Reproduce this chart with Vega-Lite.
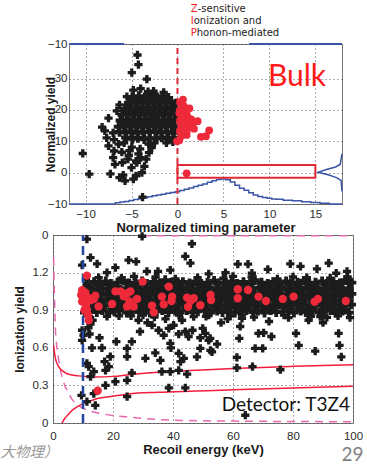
{
"$schema": "https://vega.github.io/schema/vega-lite/v6.json",
"padding": {"left": 0, "top": 3, "right": 0, "bottom": 0},
"config": {
  "font": "Liberation Sans",
  "view": {"stroke": "#7a7a7a", "strokeWidth": 1},
  "axis": {"domain": false, "ticks": false, "grid": true, "gridDash": [1, 3], "gridColor": "#333", "gridWidth": 1, "gridOpacity": 0.8,
    "labelFont": "Liberation Sans", "labelFontSize": 11.5, "labelColor": "#2a2a2a", "labelFlush": false, "labelOverlap": false, "labelBound": false,
    "titleFont": "Liberation Sans", "titleFontSize": 13, "titleFontWeight": "bold", "titleColor": "#1a1a1a"}
},
"datasets": {
  "histX": [{"x":-11.8,"y":-10},{"x":-7,"y":-10},{"x":-6.5,"y":-9.6},{"x":-6,"y":-9.4},{"x":-5.5,"y":-9.2},{"x":-5,"y":-8.9},{"x":-4.5,"y":-8.6},{"x":-4,"y":-8.3},{"x":-3.5,"y":-8.0},{"x":-3,"y":-7.7},{"x":-2.5,"y":-7.4},{"x":-2,"y":-7.1},{"x":-1.5,"y":-6.9},{"x":-1,"y":-6.6},{"x":-0.5,"y":-6.3},{"x":0,"y":-6.1},{"x":0.5,"y":-5.7},{"x":1,"y":-5.3},{"x":1.5,"y":-4.9},{"x":2,"y":-4.4},{"x":2.5,"y":-4.0},{"x":3,"y":-3.6},{"x":3.5,"y":-3.1},{"x":4,"y":-2.6},{"x":4.5,"y":-2.2},{"x":5,"y":-2.0},{"x":5.5,"y":-2.3},{"x":6,"y":-3.0},{"x":6.5,"y":-4.0},{"x":7,"y":-5.0},{"x":7.5,"y":-5.6},{"x":8,"y":-6.4},{"x":8.5,"y":-7.1},{"x":9,"y":-7.6},{"x":9.5,"y":-7.9},{"x":10,"y":-8.2},{"x":10.5,"y":-8.4},{"x":11,"y":-8.5},{"x":12,"y":-8.8},{"x":13,"y":-9.0},{"x":14,"y":-9.3},{"x":15,"y":-9.5},{"x":16,"y":-9.8},{"x":17,"y":-10},{"x":17.9,"y":-10}],
  "histY": [{"i":1,"x":17.9,"y":-6},{"i":2,"x":17.8,"y":-2.5},{"i":3,"x":17.3,"y":-1.6},{"i":4,"x":16.4,"y":-0.7},{"i":5,"x":15.3,"y":0.1},{"i":6,"x":16.2,"y":1.0},{"i":7,"x":17.2,"y":1.8},{"i":8,"x":17.7,"y":2.6},{"i":9,"x":17.9,"y":6}],
  "topEdge": [{"x":-11.8,"x2":-5.8,"y":41},{"x":7.8,"x2":17.9,"y":41}],
  "zeroLine": [{"x":0,"y":-10,"y2":41}],
  "box": [{"x":0,"x2":15,"y":-1.6,"y2":2.4}],
  "bulk": [{"t":"Bulk","x":13.0,"y":30.4}],
  "zipR": [{"t":"Z","x":1.45,"y":52},{"t":"I","x":1.45,"y":48.2},{"t":"P","x":1.45,"y":44.5}],
  "zipK": [{"t":"-sensitive","x":2.2,"y":52},{"t":"onization and","x":1.77,"y":48.2},{"t":"honon-mediated","x":2.1,"y":44.5}],
  "topCore": [
    {"x":-5.6,"y":11.2},{"x":-4.9,"y":10.8},{"x":-4.3,"y":11.1},{"x":-3.6,"y":10.7},{"x":-3.0,"y":11.0},{"x":-2.3,"y":10.9},{"x":-1.7,"y":11.2},{"x":-1.0,"y":10.8},{"x":-0.4,"y":11.1},
    {"x":-6.3,"y":13.0},{"x":-5.65,"y":12.8},{"x":-5.0,"y":13.1},{"x":-4.35,"y":12.7},{"x":-3.7,"y":13.0},{"x":-3.05,"y":12.9},{"x":-2.4,"y":13.2},{"x":-1.75,"y":12.8},{"x":-1.1,"y":13.0},{"x":-0.45,"y":12.7},
    {"x":-6.4,"y":14.6},{"x":-5.8,"y":15.0},{"x":-5.15,"y":14.7},{"x":-4.5,"y":14.9},{"x":-3.85,"y":14.6},{"x":-3.2,"y":15.0},{"x":-2.55,"y":14.8},{"x":-1.9,"y":14.6},{"x":-1.25,"y":15.0},{"x":-0.6,"y":14.7},
    {"x":-6.2,"y":16.6},{"x":-5.5,"y":16.9},{"x":-4.85,"y":16.5},{"x":-4.2,"y":16.8},{"x":-3.55,"y":16.6},{"x":-2.9,"y":17.0},{"x":-2.25,"y":16.7},{"x":-1.6,"y":16.5},{"x":-0.95,"y":16.9},{"x":-0.3,"y":16.6},
    {"x":-6.0,"y":18.4},{"x":-5.3,"y":18.7},{"x":-4.65,"y":18.5},{"x":-4.0,"y":18.8},{"x":-3.35,"y":18.5},{"x":-2.7,"y":18.7},{"x":-2.05,"y":18.4},{"x":-1.4,"y":18.8},{"x":-0.75,"y":18.5},{"x":-0.15,"y":18.7},
    {"x":-5.7,"y":20.3},{"x":-5.05,"y":20.6},{"x":-4.4,"y":20.4},{"x":-3.75,"y":20.7},{"x":-3.1,"y":20.4},{"x":-2.45,"y":20.6},{"x":-1.8,"y":20.3},{"x":-1.15,"y":20.7},{"x":-0.5,"y":20.4},
    {"x":-5.3,"y":22.2},{"x":-4.6,"y":22.5},{"x":-3.95,"y":22.3},{"x":-3.3,"y":22.6},{"x":-2.65,"y":22.2},{"x":-2.0,"y":22.5},{"x":-1.35,"y":22.3},{"x":-0.7,"y":22.5},{"x":-0.2,"y":22.0},
    {"x":-4.9,"y":24.1},{"x":-4.2,"y":24.4},{"x":-3.55,"y":24.0},{"x":-2.9,"y":24.3},{"x":-2.25,"y":24.1},{"x":-1.6,"y":24.4},{"x":-1.0,"y":23.8},{"x":-0.1,"y":13.8},{"x":-0.1,"y":19.6}
  ],
  "topBlack": [
    {"x":-5.5,"y":24.2},{"x":-4.8,"y":26.3},{"x":-4.0,"y":26.8},{"x":-2.6,"y":26.0},{"x":-1.5,"y":25.6},{"x":-3.2,"y":25.8},{"x":-6.3,"y":21.6},{"x":-6.6,"y":19.7},{"x":-7.5,"y":17.4},{"x":-8.2,"y":14.5},{"x":-7.0,"y":12.7},{"x":-7.7,"y":11.1},{"x":-6.9,"y":10.5},{"x":-7.9,"y":13.3},
    {"x":-4.35,"y":37.5},{"x":-4.25,"y":34.4},{"x":-4.97,"y":31.9},{"x":-3.33,"y":29.8},{"x":-10.3,"y":6.1},{"x":-9.6,"y":-0.5},{"x":-3.8,"y":-7.8},{"x":-7.3,"y":-0.4},{"x":-6.3,"y":-1.6},{"x":-5.7,"y":-2.65},{"x":-4.8,"y":-2.1},{"x":-4.5,"y":-1.0},{"x":-6.8,"y":2.6},{"x":-6.0,"y":3.2},{"x":-5.0,"y":1.6},{"x":-5.4,"y":4.3},{"x":-4.5,"y":3.7},{"x":-4.0,"y":4.8},{"x":-3.4,"y":4.3},{"x":-3.1,"y":6.4},{"x":-6.9,"y":6.9},{"x":-7.5,"y":8.5},{"x":-6.4,"y":9.1},{"x":-5.3,"y":5.5},{"x":-4.25,"y":6.0},{"x":-4.97,"y":8.1},{"x":-4.06,"y":7.6},{"x":-3.14,"y":9.1},{"x":-4.42,"y":3.2},{"x":-3.87,"y":0.0},{"x":-6.05,"y":6.5},{"x":-5.8,"y":9.5},{"x":-5.2,"y":7.0},{"x":-3.6,"y":2.0},{"x":-2.8,"y":8.0},{"x":-2.5,"y":9.5},{"x":-1.2,"y":9.5},{"x":-0.5,"y":9.8},{"x":-5.9,"y":-0.8},{"x":-7.0,"y":4.8}
  ],
  "topRed": [
    {"x":0.3,"y":22.3},{"x":0.7,"y":21.2},{"x":0.3,"y":20.0},{"x":1.0,"y":19.5},{"x":0.4,"y":18.2},{"x":1.1,"y":17.8},{"x":0.3,"y":16.5},{"x":1.0,"y":16.2},{"x":1.6,"y":15.5},{"x":0.4,"y":14.8},{"x":1.2,"y":14.5},{"x":1.8,"y":14.0},{"x":0.3,"y":13.2},{"x":1.0,"y":13.0},{"x":0.4,"y":11.7},{"x":1.0,"y":12.0},{"x":0.2,"y":10.3},{"x":-0.05,"y":10.0},{"x":0.6,"y":23.3},{"x":1.3,"y":20.5},{"x":2.2,"y":16.4},{"x":3.45,"y":13.5},{"x":2.55,"y":11.4},{"x":3.1,"y":11.6},{"x":1.0,"y":-0.2},{"x":1.5,"y":17.0},{"x":0.2,"y":19.0},{"x":0.8,"y":15.2}
  ],
  "botBand": [
    {"x":10.6,"y":0.88},{"x":12.3,"y":0.895},{"x":14.6,"y":0.885},{"x":16.4,"y":0.9},{"x":18.7,"y":0.88},{"x":20.5,"y":0.89},{"x":22.2,"y":0.9},{"x":24.6,"y":0.88},{"x":26.4,"y":0.895},{"x":28.7,"y":0.885},{"x":30.5,"y":0.9},{"x":32.3,"y":0.88},{"x":34.6,"y":0.89},{"x":36.4,"y":0.9},{"x":38.5,"y":0.885},{"x":40.7,"y":0.895},{"x":42.3,"y":0.88},{"x":44.6,"y":0.9},{"x":46.5,"y":0.885},{"x":48.3,"y":0.89},{"x":50.6,"y":0.9},{"x":52.4,"y":0.88},{"x":54.7,"y":0.895},{"x":56.5,"y":0.885},{"x":58.3,"y":0.9},{"x":60.6,"y":0.88},{"x":62.4,"y":0.89},{"x":64.5,"y":0.9},{"x":66.7,"y":0.885},{"x":68.3,"y":0.895},{"x":70.5,"y":0.88},{"x":72.6,"y":0.9},{"x":74.4,"y":0.885},{"x":76.7,"y":0.89},{"x":78.5,"y":0.9},{"x":80.3,"y":0.88},{"x":82.6,"y":0.895},{"x":84.4,"y":0.885},{"x":86.5,"y":0.9},{"x":88.7,"y":0.88},{"x":90.3,"y":0.89},{"x":92.6,"y":0.9},{"x":94.4,"y":0.885},{"x":96.5,"y":0.895},{"x":98.6,"y":0.88},
    {"x":11.4,"y":0.94},{"x":13.6,"y":0.93},{"x":15.5,"y":0.945},{"x":17.3,"y":0.935},{"x":19.6,"y":0.94},{"x":21.4,"y":0.93},{"x":23.5,"y":0.94},{"x":25.7,"y":0.935},{"x":27.4,"y":0.945},{"x":29.6,"y":0.93},{"x":31.5,"y":0.94},{"x":33.3,"y":0.935},{"x":35.6,"y":0.945},{"x":37.4,"y":0.93},{"x":39.5,"y":0.94},{"x":41.7,"y":0.935},{"x":43.4,"y":0.945},{"x":45.5,"y":0.93},{"x":47.6,"y":0.94},{"x":49.3,"y":0.935},{"x":51.5,"y":0.945},{"x":53.7,"y":0.93},{"x":55.4,"y":0.94},{"x":57.6,"y":0.935},{"x":59.5,"y":0.945},{"x":61.3,"y":0.93},{"x":63.6,"y":0.94},{"x":65.4,"y":0.935},{"x":67.5,"y":0.945},{"x":69.7,"y":0.93},{"x":71.4,"y":0.94},{"x":73.6,"y":0.935},{"x":75.5,"y":0.945},{"x":77.3,"y":0.93},{"x":79.6,"y":0.94},{"x":81.4,"y":0.935},{"x":83.5,"y":0.945},{"x":85.7,"y":0.93},{"x":87.4,"y":0.94},{"x":89.6,"y":0.935},{"x":91.5,"y":0.945},{"x":93.3,"y":0.93},{"x":95.6,"y":0.94},{"x":97.4,"y":0.935},{"x":99.4,"y":0.945},
    {"x":10.4,"y":0.98},{"x":12.6,"y":0.99},{"x":14.5,"y":0.975},{"x":16.3,"y":0.985},{"x":18.6,"y":0.98},{"x":20.4,"y":0.99},{"x":22.5,"y":0.975},{"x":24.7,"y":0.985},{"x":26.3,"y":0.98},{"x":28.5,"y":0.99},{"x":30.6,"y":0.975},{"x":32.4,"y":0.985},{"x":34.5,"y":0.98},{"x":36.7,"y":0.99},{"x":38.4,"y":0.975},{"x":40.5,"y":0.985},{"x":42.6,"y":0.98},{"x":44.3,"y":0.99},{"x":46.5,"y":0.975},{"x":48.7,"y":0.985},{"x":50.4,"y":0.98},{"x":52.5,"y":0.99},{"x":54.6,"y":0.975},{"x":56.3,"y":0.985},{"x":58.5,"y":0.98},{"x":60.7,"y":0.99},{"x":62.3,"y":0.975},{"x":64.6,"y":0.985},{"x":66.4,"y":0.98},{"x":68.5,"y":0.99},{"x":70.7,"y":0.975},{"x":72.3,"y":0.985},{"x":74.5,"y":0.98},{"x":76.6,"y":0.99},{"x":78.4,"y":0.975},{"x":80.5,"y":0.985},{"x":82.7,"y":0.98},{"x":84.3,"y":0.99},{"x":86.6,"y":0.975},{"x":88.4,"y":0.985},{"x":90.5,"y":0.98},{"x":92.7,"y":0.99},{"x":94.3,"y":0.975},{"x":96.6,"y":0.985},{"x":98.4,"y":0.98},
    {"x":11.6,"y":1.03},{"x":13.4,"y":1.02},{"x":15.5,"y":1.035},{"x":17.7,"y":1.025},{"x":19.4,"y":1.03},{"x":21.6,"y":1.02},{"x":23.3,"y":1.035},{"x":25.5,"y":1.025},{"x":27.6,"y":1.03},{"x":29.4,"y":1.02},{"x":31.5,"y":1.035},{"x":33.7,"y":1.025},{"x":35.4,"y":1.03},{"x":37.6,"y":1.02},{"x":39.3,"y":1.035},{"x":41.5,"y":1.025},{"x":43.6,"y":1.03},{"x":45.4,"y":1.02},{"x":47.5,"y":1.035},{"x":49.7,"y":1.025},{"x":51.3,"y":1.03},{"x":53.5,"y":1.02},{"x":55.6,"y":1.035},{"x":57.4,"y":1.025},{"x":59.5,"y":1.03},{"x":61.7,"y":1.02},{"x":63.4,"y":1.035},{"x":65.6,"y":1.025},{"x":67.3,"y":1.03},{"x":69.5,"y":1.02},{"x":71.6,"y":1.035},{"x":73.4,"y":1.025},{"x":75.5,"y":1.03},{"x":77.7,"y":1.02},{"x":79.4,"y":1.035},{"x":81.6,"y":1.025},{"x":83.3,"y":1.03},{"x":85.5,"y":1.02},{"x":87.6,"y":1.035},{"x":89.4,"y":1.025},{"x":91.5,"y":1.03},{"x":93.7,"y":1.02},{"x":95.4,"y":1.035},{"x":97.6,"y":1.025},{"x":99.5,"y":1.03},
    {"x":10.5,"y":1.07},{"x":12.3,"y":1.08},{"x":14.6,"y":1.065},{"x":16.4,"y":1.075},{"x":18.5,"y":1.07},{"x":20.7,"y":1.08},{"x":22.4,"y":1.065},{"x":24.5,"y":1.075},{"x":26.6,"y":1.07},{"x":28.3,"y":1.08},{"x":30.5,"y":1.065},{"x":32.7,"y":1.075},{"x":34.4,"y":1.07},{"x":36.5,"y":1.08},{"x":38.6,"y":1.065},{"x":40.3,"y":1.075},{"x":42.5,"y":1.07},{"x":44.7,"y":1.08},{"x":46.4,"y":1.065},{"x":48.5,"y":1.075},{"x":50.6,"y":1.07},{"x":52.3,"y":1.08},{"x":54.5,"y":1.065},{"x":56.7,"y":1.075},{"x":58.4,"y":1.07},{"x":60.5,"y":1.08},{"x":62.6,"y":1.065},{"x":64.3,"y":1.075},{"x":66.5,"y":1.07},{"x":68.7,"y":1.08},{"x":70.4,"y":1.065},{"x":72.5,"y":1.075},{"x":74.6,"y":1.07},{"x":76.3,"y":1.08},{"x":78.5,"y":1.065},{"x":80.7,"y":1.075},{"x":82.4,"y":1.07},{"x":84.5,"y":1.08},{"x":86.6,"y":1.065},{"x":88.3,"y":1.075},{"x":90.5,"y":1.07},{"x":92.7,"y":1.08},{"x":94.4,"y":1.065},{"x":96.5,"y":1.075},{"x":98.6,"y":1.07},
    {"x":11.5,"y":1.11},{"x":13.7,"y":1.125},{"x":15.4,"y":1.115},{"x":17.6,"y":1.13},{"x":19.3,"y":1.11},{"x":21.5,"y":1.12},{"x":23.6,"y":1.135},{"x":25.4,"y":1.115},{"x":27.5,"y":1.12},{"x":29.7,"y":1.13},{"x":31.3,"y":1.11},{"x":33.5,"y":1.125},{"x":35.6,"y":1.115},{"x":37.4,"y":1.14},{"x":39.5,"y":1.12},{"x":41.7,"y":1.11},{"x":43.3,"y":1.125},{"x":45.5,"y":1.115},{"x":47.6,"y":1.13},{"x":49.4,"y":1.11},{"x":51.5,"y":1.12},{"x":53.7,"y":1.135},{"x":55.3,"y":1.115},{"x":57.5,"y":1.12},{"x":59.6,"y":1.13},{"x":61.4,"y":1.11},{"x":63.5,"y":1.125},{"x":65.7,"y":1.115},{"x":67.3,"y":1.14},{"x":69.5,"y":1.12},{"x":71.6,"y":1.11},{"x":73.4,"y":1.125},{"x":75.5,"y":1.115},{"x":77.7,"y":1.13},{"x":79.3,"y":1.11},{"x":81.5,"y":1.12},{"x":83.6,"y":1.135},{"x":85.4,"y":1.115},{"x":87.5,"y":1.12},{"x":89.7,"y":1.13},{"x":91.3,"y":1.11},{"x":93.5,"y":1.125},{"x":95.6,"y":1.115},{"x":97.4,"y":1.14},{"x":99.5,"y":1.12}
  ],
  "botBlack": [
    {"x":15.2,"y":1.16},{"x":22.8,"y":1.155},{"x":34.2,"y":1.165},{"x":40.8,"y":1.15},{"x":48.2,"y":1.16},{"x":56.8,"y":1.155},{"x":66.2,"y":1.165},{"x":74.8,"y":1.15},{"x":84.6,"y":1.16},{"x":92.4,"y":1.155},{"x":98.2,"y":1.165},{"x":27.0,"y":1.17},{"x":60.0,"y":1.17},{"x":80.0,"y":1.165},{"x":11.0,"y":1.15},
    {"x":12.0,"y":0.85},{"x":13.2,"y":0.82},{"x":12.5,"y":0.79},{"x":18.0,"y":0.85},{"x":26.0,"y":0.855},{"x":33.8,"y":0.845},{"x":42.0,"y":0.86},{"x":51.0,"y":0.85},{"x":59.0,"y":0.855},{"x":67.0,"y":0.845},{"x":77.0,"y":0.86},{"x":86.0,"y":0.85},{"x":95.0,"y":0.855},{"x":30.0,"y":0.86},{"x":63.0,"y":0.86},{"x":89.5,"y":0.86},{"x":22.0,"y":0.855},{"x":11.8,"y":0.76},{"x":12.2,"y":0.71},
    {"x":11.3,"y":1.467},{"x":12.5,"y":1.32},{"x":9.7,"y":1.26},{"x":14.7,"y":1.27},{"x":25.2,"y":1.3},{"x":27.7,"y":1.288},{"x":31.3,"y":1.21},{"x":46.3,"y":1.43},{"x":45.8,"y":1.275},{"x":44.1,"y":1.33},{"x":39.1,"y":1.22},{"x":20.8,"y":1.24},{"x":35.0,"y":1.21},{"x":51.9,"y":1.19},{"x":61.6,"y":1.267},{"x":65.0,"y":1.267},{"x":71.6,"y":1.226},{"x":79.1,"y":1.27},{"x":82.5,"y":1.25},{"x":88.0,"y":1.23},{"x":91.9,"y":1.275},{"x":94.4,"y":1.195},{"x":98.0,"y":1.21},{"x":66.3,"y":1.195},{"x":29.7,"y":1.49},{"x":18.0,"y":1.2},{"x":57.5,"y":1.2},
    {"x":9.7,"y":0.74},{"x":10.2,"y":0.7},{"x":9.7,"y":0.66},{"x":13.0,"y":0.6},{"x":16.3,"y":0.6},{"x":21.1,"y":0.65},{"x":26.3,"y":0.65},{"x":24.7,"y":0.53},{"x":19.1,"y":0.53},{"x":17.2,"y":0.49},{"x":18.6,"y":0.45},{"x":17.5,"y":0.42},{"x":11.3,"y":0.475},{"x":11.9,"y":0.45},{"x":13.6,"y":0.41},{"x":12.5,"y":0.37},{"x":20.8,"y":0.33},{"x":24.7,"y":0.34},{"x":26.3,"y":0.4},{"x":17.5,"y":0.3},{"x":13.6,"y":0.235},{"x":14.1,"y":0.14},{"x":9.5,"y":0.22},{"x":11.3,"y":0.17},{"x":24.7,"y":0.21},
    {"x":33.0,"y":0.78},{"x":35.2,"y":0.74},{"x":36.9,"y":0.7},{"x":38.6,"y":0.755},{"x":40.2,"y":0.78},{"x":41.9,"y":0.71},{"x":44.1,"y":0.73},{"x":45.2,"y":0.69},{"x":49.1,"y":0.68},{"x":51.9,"y":0.66},{"x":54.7,"y":0.63},{"x":52.5,"y":0.58},{"x":49.1,"y":0.595},{"x":39.1,"y":0.635},{"x":39.3,"y":0.6},{"x":41.9,"y":0.555},{"x":43.6,"y":0.515},{"x":42.5,"y":0.49},{"x":35.8,"y":0.5},{"x":36.3,"y":0.41},{"x":39.1,"y":0.41},{"x":41.9,"y":0.42},{"x":44.7,"y":0.39},{"x":38.6,"y":0.28},{"x":44.1,"y":0.28},{"x":34.1,"y":0.56},{"x":30.8,"y":0.515},{"x":24.7,"y":0.595},
    {"x":63.0,"y":0.835},{"x":62.4,"y":0.77},{"x":62.1,"y":0.675},{"x":68.5,"y":0.715},{"x":70.2,"y":0.72},{"x":72.8,"y":0.69},{"x":67.4,"y":0.595},{"x":69.9,"y":0.595},{"x":61.3,"y":0.523},{"x":61.3,"y":0.44},{"x":66.5,"y":0.45},{"x":75.8,"y":0.425},{"x":64.1,"y":0.062},{"x":81.0,"y":0.715},{"x":81.9,"y":0.62},{"x":87.4,"y":0.573},{"x":85.0,"y":0.86},{"x":85.2,"y":0.82},{"x":89.1,"y":0.848},{"x":91.3,"y":0.843},{"x":94.1,"y":0.875},{"x":95.2,"y":0.715},{"x":95.5,"y":0.62},{"x":96.1,"y":0.528},{"x":51.9,"y":0.86},{"x":49.9,"y":0.755},{"x":50.8,"y":0.715},{"x":52.4,"y":0.675},{"x":48.0,"y":0.528},{"x":53.0,"y":0.568},{"x":46.9,"y":0.848},{"x":46.5,"y":0.74},
    {"x":28.5,"y":0.82},{"x":31.5,"y":0.8},{"x":56.0,"y":0.8},{"x":58.2,"y":0.83},{"x":72.0,"y":0.81},{"x":78.5,"y":0.84},{"x":90.0,"y":0.8},{"x":99.0,"y":0.84},{"x":37.5,"y":0.83},{"x":43.0,"y":0.82},{"x":29.0,"y":0.73},{"x":15.5,"y":0.68}
  ],
  "botRed": [
    {"x":11.3,"y":1.176},{"x":9.7,"y":1.06},{"x":9.4,"y":1.02},{"x":10.2,"y":0.98},{"x":11.0,"y":0.94},{"x":11.3,"y":0.9},{"x":11.7,"y":0.86},{"x":11.9,"y":0.82},{"x":9.7,"y":0.97},{"x":10.5,"y":0.9},{"x":12.5,"y":0.98},{"x":10.8,"y":1.04},{"x":11.6,"y":1.0},{"x":13.6,"y":0.99},{"x":15.2,"y":0.93},{"x":14.1,"y":1.015},{"x":19.7,"y":0.95},{"x":20.8,"y":1.05},{"x":22.5,"y":1.05},{"x":23.6,"y":1.01},{"x":24.7,"y":1.035},{"x":25.5,"y":0.97},{"x":24.7,"y":0.93},{"x":25.8,"y":1.05},{"x":26.9,"y":0.93},{"x":28.0,"y":0.99},{"x":29.9,"y":1.128},{"x":33.0,"y":0.937},{"x":33.6,"y":0.883},{"x":36.3,"y":1.008},{"x":36.9,"y":0.947},{"x":38.6,"y":1.088},{"x":39.7,"y":1.008},{"x":39.5,"y":0.973},{"x":44.7,"y":1.0},{"x":45.0,"y":0.927},{"x":45.8,"y":0.973},{"x":46.9,"y":0.995},{"x":49.1,"y":0.94},{"x":52.5,"y":1.021},{"x":52.7,"y":0.981},{"x":61.6,"y":1.067},{"x":61.6,"y":0.995},{"x":65.0,"y":1.061},{"x":68.5,"y":1.008},{"x":71.0,"y":0.973},{"x":76.6,"y":0.99},{"x":80.2,"y":1.008},{"x":87.2,"y":0.968},{"x":88.3,"y":0.99},{"x":97.6,"y":0.973},{"x":14.9,"y":0.257}
  ],
  "curves": [
    {"c":"upper","x":0.2,"y":0.62},{"c":"upper","x":0.8,"y":0.515},{"c":"upper","x":1.9,"y":0.45},{"c":"upper","x":4.1,"y":0.4},{"c":"upper","x":6,"y":0.385},{"c":"upper","x":8.6,"y":0.376},{"c":"upper","x":14.1,"y":0.368},{"c":"upper","x":20,"y":0.372},{"c":"upper","x":25.2,"y":0.385},{"c":"upper","x":35,"y":0.405},{"c":"upper","x":47.5,"y":0.42},{"c":"upper","x":60,"y":0.435},{"c":"upper","x":80,"y":0.452},{"c":"upper","x":100,"y":0.465},
    {"c":"lower","x":3.0,"y":0},{"c":"lower","x":4,"y":0.04},{"c":"lower","x":5,"y":0.065},{"c":"lower","x":6.3,"y":0.1},{"c":"lower","x":8,"y":0.128},{"c":"lower","x":9.7,"y":0.15},{"c":"lower","x":14.1,"y":0.19},{"c":"lower","x":19.4,"y":0.212},{"c":"lower","x":25.2,"y":0.232},{"c":"lower","x":35,"y":0.245},{"c":"lower","x":47.5,"y":0.255},{"c":"lower","x":60,"y":0.265},{"c":"lower","x":80,"y":0.28},{"c":"lower","x":100,"y":0.293}
  ],
  "pink": [{"x":0.2,"y":1.32},{"x":0.5,"y":1.0},{"x":0.8,"y":0.76},{"x":1.3,"y":0.6},{"x":2.0,"y":0.49},{"x":2.5,"y":0.42},{"x":3.0,"y":0.37},{"x":4.1,"y":0.29},{"x":5.0,"y":0.25},{"x":6.3,"y":0.19},{"x":8.0,"y":0.15},{"x":10.2,"y":0.115},{"x":13,"y":0.092},{"x":16,"y":0.075},{"x":20,"y":0.06},{"x":25,"y":0.047},{"x":30,"y":0.036},{"x":37,"y":0.025},{"x":45,"y":0.02},{"x":60,"y":0.015},{"x":80,"y":0.012},{"x":100,"y":0.01}],
  "pinkTop": [{"x":30,"y":1.495},{"x":100,"y":1.495}],
  "blueLine": [{"x":10,"y":0,"y2":1.5}],
  "detector": [{"t":"Detector: T3Z4","x":77.6,"y":0.14}],
  "foot": [{"t":"大物理）","x":-17.5,"y":-0.24}],
  "page": [{"t":"29","x":103.5,"y":-0.252}]
},
"columns": 1,
"align": "none",
"spacing": -7,
"concat": [
  {"spacing": -10, "hconcat": [
    {"width": 1, "height": 10, "data": {"values": []}, "mark": "point", "view": {"stroke": null}},
    {"width": 273, "height": 160,
     "encoding": {
       "x": {"field": "x", "type": "quantitative", "scale": {"domain": [-11.8, 17.9], "nice": false, "zero": false},
             "axis": {"title": "Normalized timing parameter", "values": [-10, -5, 0, 5, 10, 15], "labelPadding": 4, "titlePadding": 2}},
       "y": {"field": "y", "type": "quantitative", "scale": {"domain": [-10, 41], "nice": false, "zero": false},
             "axis": {"title": "Normalized yield", "titleFontSize": 12, "values": [-10, 0, 10, 20, 30, 41], "labelExpr": "datum.value == 41 ? '−10' : datum.label", "labelPadding": 2, "titlePadding": -10.5}}
     },
     "layer": [
       {"data": {"name": "histX"}, "mark": {"type": "line", "interpolate": "step", "color": "#3a55a5", "strokeWidth": 1.5}},
       {"data": {"name": "histY"}, "mark": {"type": "line", "color": "#3a55a5", "strokeWidth": 1.5}, "encoding": {"order": {"field": "i", "type": "quantitative"}}},
       {"data": {"name": "topEdge"}, "mark": {"type": "rule", "color": "#3a55a5", "strokeWidth": 2}, "encoding": {"x2": {"field": "x2"}}},
       {"data": {"name": "topCore"}, "mark": {"type": "point", "shape": "cross", "filled": true, "size": 95, "color": "#1c1c1c", "opacity": 1}},
       {"data": {"name": "topBlack"}, "mark": {"type": "point", "shape": "cross", "filled": true, "size": 68, "color": "#1c1c1c", "opacity": 1}},
       {"data": {"name": "zeroLine"}, "mark": {"type": "rule", "color": "#e02a36", "strokeWidth": 2, "strokeDash": [6, 4]}, "encoding": {"y2": {"field": "y2"}}},
       {"data": {"name": "topRed"}, "mark": {"type": "point", "shape": "circle", "filled": true, "size": 60, "color": "#ee2a3a", "opacity": 1}},
       {"data": {"name": "box"}, "mark": {"type": "rect", "fillOpacity": 0, "stroke": "#e02a36", "strokeWidth": 2}, "encoding": {"x2": {"field": "x2"}, "y2": {"field": "y2"}}},
       {"data": {"name": "bulk"}, "mark": {"type": "text", "font": "Lato", "fontSize": 30, "color": "#ff1a1a", "align": "center", "baseline": "middle"}, "encoding": {"text": {"field": "t"}}},
       {"data": {"name": "zipR"}, "mark": {"type": "text", "font": "DejaVu Sans", "fontSize": 10, "color": "#ff2020", "align": "left", "baseline": "middle"}, "encoding": {"text": {"field": "t"}}},
       {"data": {"name": "zipK"}, "mark": {"type": "text", "font": "DejaVu Sans", "fontSize": 10, "color": "#222", "align": "left", "baseline": "middle"}, "encoding": {"text": {"field": "t"}}}
     ]
    }
  ]},
  {"width": 300, "height": 188,
   "encoding": {
     "x": {"field": "x", "type": "quantitative", "scale": {"domain": [0, 100], "nice": false, "zero": false},
           "axis": {"title": "Recoil energy (keV)", "values": [0, 20, 40, 60, 80, 100], "labelPadding": 7, "titlePadding": 2}},
     "y": {"field": "y", "type": "quantitative", "scale": {"domain": [0, 1.5], "nice": false, "zero": false},
           "axis": {"title": "Ionization yield", "titleFontSize": 12, "values": [0, 0.3, 0.6, 0.9, 1.2, 1.5], "labelExpr": "datum.value == 1.5 ? '0' : format(datum.value, '.1~f')", "labelPadding": 5, "titlePadding": 6}}
   },
   "layer": [
     {"data": {"name": "pink"}, "mark": {"type": "line", "color": "#e868b0", "strokeWidth": 1.5, "strokeDash": [8, 6], "interpolate": "monotone"}},
     {"data": {"name": "pinkTop"}, "mark": {"type": "line", "color": "#e868b0", "strokeWidth": 1.5, "strokeDash": [8, 6]}},
     {"data": {"name": "curves"}, "mark": {"type": "line", "color": "#f21c3c", "strokeWidth": 1.5, "interpolate": "monotone"}, "encoding": {"detail": {"field": "c"}}},
     {"data": {"name": "botBand"}, "mark": {"type": "point", "shape": "cross", "filled": true, "size": 92, "color": "#1c1c1c", "opacity": 1}},
     {"data": {"name": "botBlack"}, "mark": {"type": "point", "shape": "cross", "filled": true, "size": 68, "color": "#1c1c1c", "opacity": 1}},
     {"data": {"name": "blueLine"}, "mark": {"type": "rule", "color": "#2544a0", "strokeWidth": 2.5, "strokeDash": [9, 5]}, "encoding": {"y2": {"field": "y2"}}},
     {"data": {"name": "botRed"}, "mark": {"type": "point", "shape": "circle", "filled": true, "size": 70, "color": "#ee2a3a", "opacity": 1}},
     {"data": {"name": "detector"}, "mark": {"type": "text", "font": "Lato", "fontSize": 19, "color": "#111", "align": "center", "baseline": "middle"}, "encoding": {"text": {"field": "t"}}},
     {"data": {"name": "foot"}, "mark": {"type": "text", "font": "Noto Sans CJK JP", "fontSize": 14.5, "fontStyle": "italic", "color": "#999", "align": "left", "baseline": "middle"}, "encoding": {"text": {"field": "t"}}},
     {"data": {"name": "page"}, "mark": {"type": "text", "font": "Lato", "fontSize": 19, "color": "#7f7f7f", "align": "right", "baseline": "middle"}, "encoding": {"text": {"field": "t"}}}
   ]
  }
]
}
